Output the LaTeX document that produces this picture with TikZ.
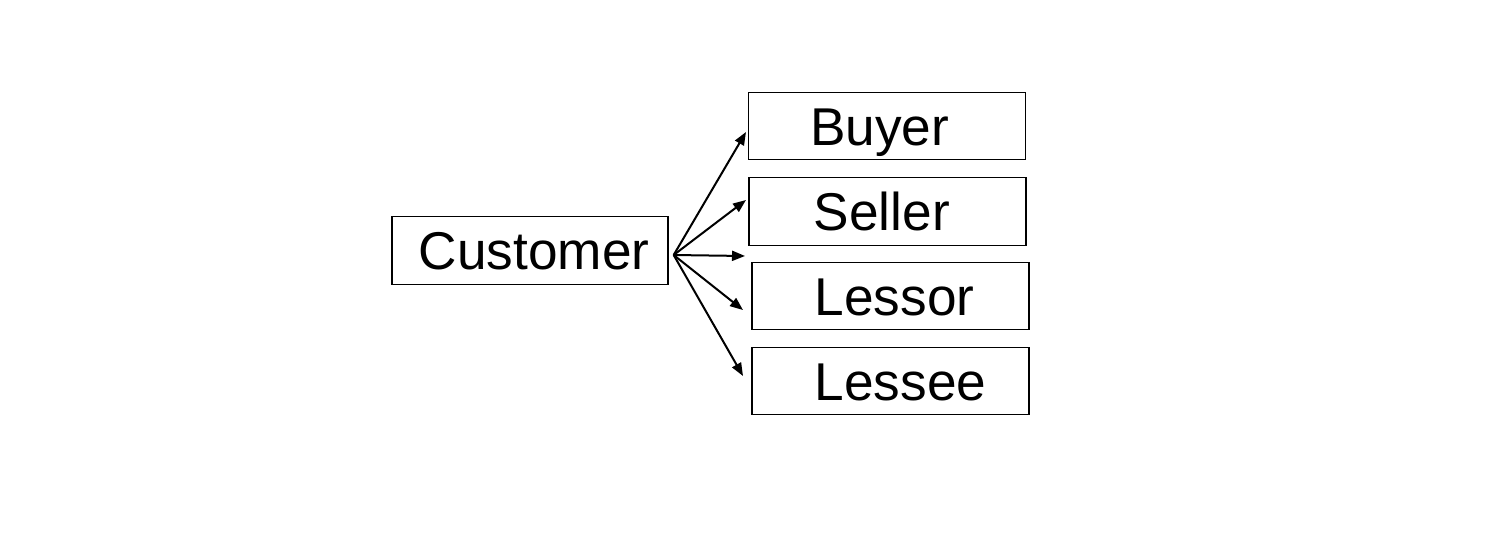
\documentclass[tikz,border=0pt]{standalone}
\usepackage{fontspec}
\setmainfont{Liberation Sans}
\usetikzlibrary{arrows.meta}

\begin{document}
\begin{tikzpicture}[x=0.5pt, y=-0.5pt,
	role/.style={draw, line width=0.65pt, minimum width=138.5pt, minimum height=33.75pt, inner sep=0pt},
	word/.style={anchor=west, inner sep=0pt, font=\fontsize{26.6}{30}\selectfont, text height=19pt, text depth=0pt},
	link/.style={-{Triangle[length=6.5pt,width=5pt]}, line width=1pt}]
	\useasboundingbox (0,0) rectangle (1502,536);
			\node[role, minimum width=138pt, label={[word, xshift=13.5pt]west:Customer}](customer) at (530, 250.5) {};
			\node[role, label={[word, xshift=31pt]west:Buyer}](buyer) at (887, 126) {};
			\node[role, label={[word, xshift=32.5pt]west:Seller}](seller) at (887.5, 211.5) {};
			\node[role, label={[word, xshift=31.5pt]west:Lessor}](lessor) at (890.5, 296) {};
			\node[role, label={[word, xshift=31.5pt]west:Lessee}](lessee) at (890.5, 381) {};
			\coordinate(hub) at ([shift={(5,4.5)}]customer.east);
			\coordinate(buyerTip) at (746, 132);
			\coordinate(sellerTip) at (746, 200);
			\coordinate(midTip) at (745, 256);
			\coordinate(lessorTip) at (743, 310);
			\coordinate(lesseeTip) at (743, 376);
			\foreach \t in {buyerTip, sellerTip, midTip, lessorTip, lesseeTip}
				\draw[link](hub) -- (\t);
		\end{tikzpicture}
\end{document}
